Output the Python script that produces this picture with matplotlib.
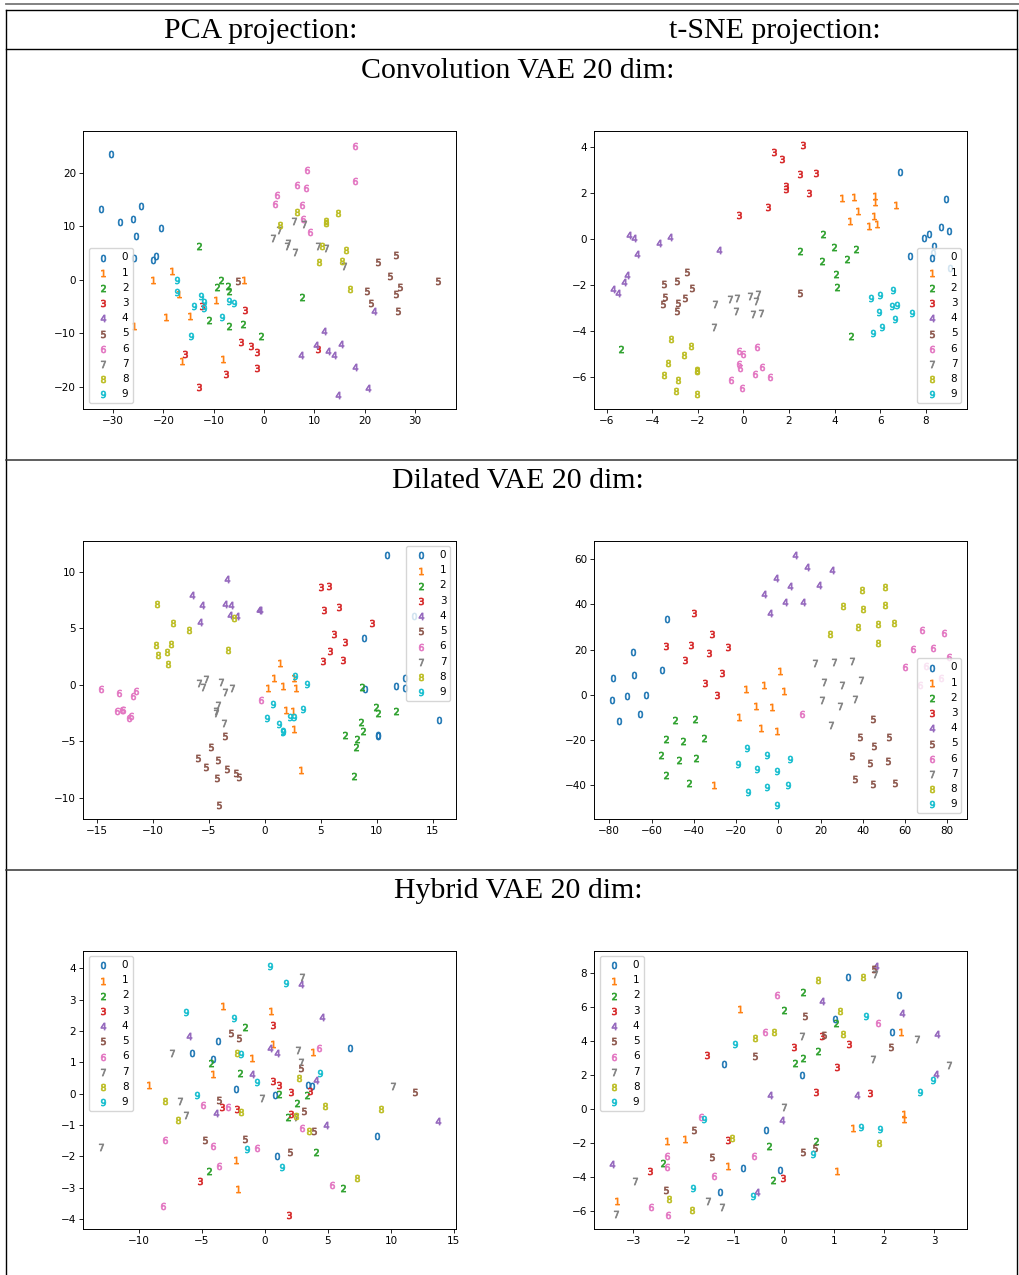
import matplotlib
matplotlib.use("Agg")
import matplotlib.pyplot as plt

DIGITS = [str(i) for i in range(10)]
COL_TITLES = ["PCA projection:", "t-SNE projection:"]
ROW_TITLES = ["Convolution VAE 20 dim:", "Dilated VAE 20 dim:", "Hybrid VAE 20 dim:"]

# ---- Convolution VAE, PCA ----
CONV_PCA_X = [
    [-30.4, -32.4, -28.6, -26.0, -24.4, -25.5, -20.5, -25.9, -22.0, -21.4],
    [-22.0, -18.2, -16.9, -19.4, -25.9, -14.7, -16.2, -9.6, -4.0, -8.1],
    [-13.0, -8.5, -9.4, -7.2, -7.0, -10.9, -7.0, -4.2, -0.5, 7.6],
    [-12.4, -3.8, -4.5, -2.6, -1.3, -1.4, -15.7, -7.5, -13.0, 10.7],
    [21.9, 11.9, 10.3, 12.7, 14.0, 15.3, 7.3, 18.1, 20.6, 14.7],
    [-5.1, 22.6, 26.3, 25.0, 20.4, 26.3, 27.1, 21.3, 26.7, 34.5],
    [18.0, 18.1, 8.6, 6.5, 8.4, 2.5, 2.2, 7.6, 7.7, 9.2],
    [5.9, 7.9, 2.9, 1.7, 4.8, 4.6, 6.2, 10.7, 12.4, 16.0],
    [3.1, 6.5, 12.3, 12.4, 14.7, 11.5, 16.4, 11.0, 15.5, 17.0],
    [-17.2, -17.3, -13.9, -12.5, -11.9, -11.9, -14.5, -8.4, -6.9, -6.0],
]
CONV_PCA_Y = [
    [23.5, 13.2, 10.7, 11.3, 13.8, 8.1, 9.7, 4.1, 3.7, 4.5],
    [0.0, 1.6, -2.7, -7.0, -8.6, -6.7, -15.2, -3.8, 0.0, -14.7],
    [6.4, 0.0, -1.4, -1.1, -2.0, -7.4, -8.6, -8.2, -10.4, -3.2],
    [-4.9, -5.7, -11.5, -12.4, -13.5, -16.4, -13.8, -17.5, -19.9, -12.8],
    [-5.8, -9.5, -12.1, -13.3, -14.0, -11.9, -14.1, -16.2, -20.1, -21.4],
    [-0.3, 3.3, 4.6, 0.8, -2.1, -2.6, -1.3, -4.3, -5.9, -0.3],
    [25.0, 18.4, 20.4, 17.6, 17.2, 15.8, 14.1, 14.0, 11.3, 8.9],
    [11.0, 10.4, 9.2, 7.8, 6.9, 6.4, 5.2, 6.4, 5.9, 2.5],
    [10.2, 12.7, 10.6, 10.9, 12.4, 6.4, 5.6, 3.3, 3.6, -1.7],
    [0.0, -2.2, -4.8, -3.1, -4.1, -5.3, -10.5, -6.9, -3.9, -4.4],
]

# ---- Convolution VAE, t-SNE ----
CONV_TSNE_X = [
    [6.89, 8.91, 8.68, 9.01, 8.15, 7.91, 8.37, 8.31, 7.33, 9.07],
    [4.33, 4.87, 5.78, 5.78, 6.70, 5.02, 5.73, 4.68, 5.51, 5.88],
    [3.51, 2.48, 3.96, 4.96, 3.44, 4.53, 4.06, 4.09, 4.73, -5.37],
    [1.36, 1.71, 2.62, 2.50, 3.19, 1.87, 1.89, 2.90, 1.09, -0.19],
    [-5.03, -4.81, -3.72, -3.24, -1.08, -4.67, -5.12, -5.24, -5.73, -5.50],
    [-2.47, -3.50, -2.90, -2.24, -3.42, -3.51, -2.58, -2.87, -2.93, 2.48],
    [-0.18, 0.00, 0.59, -0.18, -0.13, 0.81, 0.49, -0.56, 1.18, -0.04],
    [-1.26, -0.57, -0.29, 0.31, 0.63, 0.57, -0.34, 0.44, 0.76, -1.30],
    [-3.16, -2.31, -2.59, -3.29, -2.04, -2.04, -3.46, -2.85, -2.97, -2.04],
    [5.60, 6.00, 6.57, 6.51, 6.73, 5.94, 7.42, 6.64, 6.07, 5.68],
]
CONV_TSNE_Y = [
    [2.91, 1.76, 0.53, 0.35, 0.21, 0.03, -0.29, -0.60, -0.73, -1.26],
    [1.80, 1.82, 1.87, 1.60, 1.47, 1.23, 1.00, 0.77, 0.58, 0.65],
    [0.23, -0.51, -0.35, -0.45, -0.96, -0.87, -1.53, -2.10, -4.23, -4.79],
    [3.82, 3.50, 4.10, 2.83, 2.89, 2.33, 2.17, 1.99, 1.41, 1.07],
    [0.19, 0.06, -0.15, 0.08, -0.48, -0.64, -1.59, -1.87, -2.19, -2.35],
    [-1.45, -1.95, -1.83, -2.14, -2.54, -2.84, -2.58, -2.80, -3.12, -2.35],
    [-4.88, -5.01, -4.73, -5.46, -5.61, -5.59, -5.87, -6.16, -6.04, -6.48],
    [-2.84, -2.62, -2.58, -2.48, -2.38, -2.70, -3.13, -3.29, -3.21, -3.84],
    [-4.38, -4.68, -5.04, -5.40, -5.72, -5.77, -5.94, -6.16, -6.62, -6.76],
    [-2.58, -2.44, -2.22, -2.93, -2.89, -3.19, -3.22, -3.47, -3.85, -4.10],
]

# ---- Dilated VAE, PCA ----
DIL_PCA_X = [
    [10.95, 13.33, 8.83, 12.50, 11.75, 12.56, 8.92, 10.11, 10.11, 15.57],
    [1.40, 0.86, 2.59, 0.27, 1.61, 2.83, 1.88, 2.54, 2.65, 3.28],
    [8.68, 9.93, 10.11, 11.72, 8.59, 8.80, 7.22, 8.26, 8.14, 7.96],
    [5.04, 5.76, 5.34, 6.62, 9.63, 6.23, 7.16, 5.82, 5.22, 7.04],
    [-3.34, -6.50, -5.58, -3.58, -2.98, -3.10, -2.48, -0.54, -0.45, -5.76],
    [-3.52, -4.77, -5.96, -4.18, -5.25, -3.37, -2.56, -2.30, -4.26, -4.11],
    [-14.58, -13.03, -11.48, -11.75, -13.21, -12.71, -12.62, -12.11, -11.90, -0.36],
    [-5.82, -5.22, -5.52, -3.91, -3.52, -2.92, -4.18, -4.38, -4.32, -3.67],
    [-9.63, -8.20, -6.74, -9.72, -8.32, -9.48, -8.68, -8.62, -2.74, -3.25],
    [2.74, 3.82, 0.75, 3.46, 0.24, 2.30, 2.65, 1.31, 1.61, 1.64],
]
DIL_PCA_Y = [
    [11.47, 6.12, 4.12, 0.65, -0.06, -0.32, -0.35, -4.47, -4.53, -3.12],
    [1.97, 0.59, 0.59, -0.29, -0.06, -0.32, -2.24, -2.35, -3.88, -7.53],
    [-0.18, -2.00, -2.53, -2.29, -3.24, -4.09, -4.41, -4.76, -5.50, -8.06],
    [8.65, 8.71, 6.59, 6.85, 5.47, 4.47, 3.82, 2.97, 2.09, 2.21],
    [9.38, 7.97, 7.06, 7.12, 7.03, 6.18, 6.06, 6.59, 6.65, 5.59],
    [-4.50, -5.47, -6.47, -6.68, -7.26, -7.41, -7.82, -8.15, -8.26, -10.59],
    [-0.38, -0.71, -0.56, -1.00, -2.29, -2.18, -2.24, -2.94, -2.74, -1.38],
    [0.12, 0.56, -0.15, 0.29, -0.59, -0.24, -1.76, -2.35, -2.50, -3.38],
    [7.12, 5.50, 4.85, 3.50, 3.65, 2.68, 2.94, 1.88, 5.94, 3.12],
    [0.82, 0.09, -1.71, -2.15, -2.91, -2.88, -2.88, -3.47, -4.06, -4.21],
]

# ---- Dilated VAE, t-SNE ----
DIL_TSNE_X = [
    [-52.5, -68.8, -78.3, -68.5, -55.2, -78.7, -71.6, -62.8, -65.6, -75.4],
    [0.6, -15.5, -6.6, 2.8, -10.6, -3.2, -18.8, -8.4, -0.8, -30.3],
    [-48.8, -39.3, -53.2, -45.1, -35.0, -55.7, -47.2, -39.1, -53.2, -42.1],
    [-39.8, -31.4, -53.0, -41.3, -32.8, -23.7, -44.3, -26.5, -34.7, -28.9],
    [7.9, 13.4, 25.2, -1.3, 5.5, 19.4, -6.6, 3.0, 11.8, -3.9],
    [44.8, 38.5, 52.4, 45.3, 35.0, 43.6, 52.1, 36.4, 44.8, 55.1],
    [67.9, 78.4, 63.9, 73.1, 80.6, 60.0, 69.9, 77.0, 67.1, 11.2],
    [17.4, 26.5, 34.7, 21.6, 30.3, 39.0, 20.8, 29.0, 36.4, 24.8],
    [39.8, 50.3, 30.5, 39.9, 50.7, 37.9, 47.2, 54.6, 24.6, 47.0],
    [-14.7, -19.1, -5.5, 5.7, -10.3, -0.6, 4.4, -14.5, -5.5, -0.6],
]
DIL_TSNE_Y = [
    [33.4, 18.8, 7.3, 8.7, 10.8, -2.2, -0.7, -0.3, -8.4, -11.9],
    [10.7, 2.4, 4.4, 1.8, -5.1, -5.6, -9.8, -14.7, -16.0, -40.0],
    [-11.3, -10.6, -19.6, -20.4, -19.3, -26.8, -29.0, -28.3, -35.6, -39.3],
    [36.4, 26.7, 21.4, 22.2, 18.6, 21.0, 15.4, 9.8, 5.3, -0.3],
    [61.8, 56.5, 55.4, 51.7, 48.0, 48.5, 44.5, 41.1, 41.1, 36.1],
    [-10.7, -18.6, -18.6, -22.6, -27.2, -30.5, -29.5, -37.5, -39.5, -39.1],
    [28.7, 27.4, 20.4, 20.7, 16.6, 12.4, 12.9, 7.3, 4.2, -8.5],
    [13.9, 14.5, 15.0, 5.8, 4.3, 6.4, -2.6, -5.0, -1.9, -13.3],
    [46.5, 47.7, 39.3, 38.1, 39.7, 29.9, 31.4, 31.8, 26.9, 22.8],
    [-23.5, -30.9, -26.6, -28.5, -33.1, -33.8, -40.3, -43.2, -41.2, -48.9],
]

# ---- Hybrid VAE, PCA ----
HYB_PCA_X = [
    [-3.72, -5.76, -4.09, -2.27, 0.83, 3.43, 3.75, 6.76, 8.91, 0.94],
    [-3.35, 0.51, 0.67, -0.99, -4.09, -9.15, 3.80, -2.27, -2.09],
    [-1.57, -4.30, -2.00, 1.12, 3.35, 2.53, 1.87, 4.08, -4.44, 6.18],
    [0.62, 0.67, 1.15, 2.05, 3.56, -3.40, -2.24, 2.07, -5.12, 1.89],
    [2.86, 4.56, -6.02, 0.43, 0.99, -0.99, 4.06, -3.85, 4.88, 13.75],
    [-2.66, -2.05, 2.86, 11.91, -3.64, 3.07, -1.57, -4.76, 3.90, 1.99],
    [4.33, -4.91, -2.90, 2.97, -7.95, -4.15, -0.63, -3.62, 5.33, -8.10],
    [2.95, -7.40, 2.67, 2.88, -6.74, -0.23, -6.24, 2.49, 10.15, -12.97],
    [-2.21, 2.71, -7.88, -1.87, -6.92, 2.49, 4.80, 9.20, 3.51, 7.35],
    [0.38, 1.70, -6.24, -2.43, -1.87, 4.41, -0.63, -5.42, -1.45, 1.39],
]
HYB_PCA_Y = [
    [1.68, 1.31, 1.10, 0.16, -0.06, 0.26, 0.24, 1.45, -1.34, -1.99],
    [2.80, 2.65, 1.59, 1.12, 0.63, 0.28, 1.33, -2.11, -3.06],
    [2.13, 0.96, 0.65, -0.01, -0.04, -0.29, -0.75, -1.85, -2.48, -3.03],
    [2.18, 0.39, 0.26, 0.05, 0.07, -0.43, -0.48, -0.65, -2.78, -3.87],
    [3.49, 2.43, 1.85, 1.45, 1.28, 0.64, 0.44, -0.61, -1.00, -0.87],
    [1.92, 1.77, 0.83, 0.05, -0.22, -0.57, -1.46, -1.49, -1.18, -1.85],
    [1.44, -0.37, -0.42, -1.11, -1.47, -1.66, -1.75, -2.30, -2.92, -3.60],
    [3.71, 1.28, 1.40, 1.01, -0.24, -0.13, -0.68, -0.76, 0.25, -1.71],
    [1.31, 0.49, -0.25, -0.58, -0.83, -0.72, -0.40, -0.48, -1.18, -2.69],
    [4.06, 3.54, 2.61, 2.40, 1.25, 0.67, 0.36, -0.04, -1.77, -2.33],
]

# ---- Hybrid VAE, t-SNE ----
HYB_TSNE_X = [
    [1.28, 2.29, 1.02, 2.16, -1.20, 0.37, -0.35, -0.82, -0.07, -1.27],
    [-0.88, 2.34, 1.38, 2.39, 2.39, -2.32, -1.98, -1.12, 1.07, -3.33],
    [0.39, 0.01, 1.04, 0.68, 0.38, 0.22, 0.64, -0.29, -2.40, -0.21],
    [-1.53, 0.20, 0.77, 1.31, 1.07, 0.64, 1.73, -1.12, -2.67, -0.01],
    [1.85, 0.77, 2.36, 3.05, 3.03, -0.27, 1.46, -0.03, -3.42, -0.54],
    [1.80, 0.43, 0.81, 2.13, -0.57, -1.80, -1.44, 0.62, 0.39, -2.35],
    [-0.14, 1.88, -0.37, -1.65, -2.32, -0.59, -2.33, -1.40, -2.65, -2.30],
    [1.83, 0.37, 2.66, 1.78, 3.29, 0.01, -2.97, -1.52, -1.23, -3.34],
    [0.68, 1.58, 1.12, 1.19, -0.19, -0.57, -1.04, 1.90, -2.29, -1.83],
    [1.64, -0.97, 2.97, 2.71, -1.59, 1.55, 1.92, 0.59, -1.82, -0.61],
]
HYB_TSNE_Y = [
    [7.78, 6.71, 5.30, 4.56, 2.66, 2.01, -1.23, -3.46, -3.60, -4.89],
    [5.88, 4.56, -1.13, -0.31, -0.56, -1.86, -1.78, -3.36, -3.65, -5.41],
    [6.88, 5.83, 5.07, 3.42, 2.99, 2.72, -1.89, -2.18, -3.17, -4.16],
    [3.19, 3.68, 4.29, 3.81, 2.48, 1.02, 0.94, -1.83, -3.65, -4.04],
    [8.43, 6.36, 5.63, 4.44, 2.07, 0.86, 0.84, -0.61, -3.21, -4.87],
    [8.23, 5.46, 4.36, 3.68, 3.11, -1.21, -2.84, -2.31, -2.49, -4.77],
    [6.70, 5.04, 4.51, -0.47, -2.78, -2.78, -3.42, -3.91, -5.77, -6.20],
    [7.92, 4.32, 4.14, 2.93, 2.60, 0.12, -4.24, -5.38, -5.77, -6.16],
    [7.57, 7.74, 5.79, 4.42, 4.55, 4.20, -1.70, -2.01, -5.30, -5.91],
    [5.45, 3.81, 1.72, 0.98, -0.58, -1.04, -1.17, -2.64, -4.65, -5.12],
]

W, H = 1019, 1275
fig = plt.figure(figsize=(W / 100, H / 100), dpi=100)

# background "table" layer in pixel coordinates
bg = fig.add_axes([0, 0, 1, 1])
bg.set_xlim(0, W)
bg.set_ylim(H, 0)
bg.axis("off")
LX, RX = 6.5, 1017.5
bg.plot([LX, W], [3.5, 3.5], color="#777777", lw=1.3)
bg.plot([LX, RX], [10, 10], color="black", lw=1.0)
bg.plot([LX, LX], [10, H], color="black", lw=1.0)
bg.plot([RX, RX], [10, H], color="black", lw=1.0)
bg.plot([LX, RX], [49, 49], color="black", lw=1.0)
bg.plot([LX, RX], [459.5, 459.5], color="#333333", lw=1.1)
bg.plot([LX, RX], [869.5, 869.5], color="#333333", lw=1.1)

serif = ["Liberation Serif", "DejaVu Serif"]
bg.text(261, 38.5, COL_TITLES[0], ha="center", va="baseline", fontsize=21.5, family=serif)
bg.text(775, 38.5, COL_TITLES[1], ha="center", va="baseline", fontsize=21.5, family=serif)
for i, t in enumerate(ROW_TITLES):
    bg.text(518, 78 + 410 * i, t, ha="center", va="baseline", fontsize=21.5, family=serif)

PLOTS = [
    (CONV_PCA_X, CONV_PCA_Y, 0, 0, (-35.9, 38.1), (-24.0, 27.8), "lower left"),
    (CONV_TSNE_X, CONV_TSNE_Y, 0, 1, (-6.54, 9.80), (-7.40, 4.73), "lower right"),
    (DIL_PCA_X, DIL_PCA_Y, 1, 0, (-16.19, 17.06), (-11.82, 12.74), "upper right"),
    (DIL_TSNE_X, DIL_TSNE_Y, 1, 1, (-87.1, 89.2), (-55.0, 68.3), "lower right"),
    (HYB_PCA_X, HYB_PCA_Y, 2, 0, (-14.40, 15.14), (-4.31, 4.56), "upper left"),
    (HYB_TSNE_X, HYB_TSNE_Y, 2, 1, (-3.78, 3.65), (-7.02, 9.31), "upper left"),
]

COL_X0 = [83.3, 594.3]
ROW_Y0 = [130.7, 540.7, 950.7]
AX_W, AX_H = 372.4, 277.9

for xs, ys, r, c, xl, yl, loc in PLOTS:
    x0 = COL_X0[c]
    y0 = ROW_Y0[r]
    ax = fig.add_axes([x0 / W, 1 - (y0 + AX_H) / H, AX_W / W, AX_H / H])
    for d in range(10):
        ax.scatter(xs[d], ys[d], marker="$%s$" % DIGITS[d], s=26,
                   color="C%d" % d, linewidths=0.5, label=DIGITS[d])
    ax.set_xlim(*xl)
    ax.set_ylim(*yl)
    ax.tick_params(labelsize=7.5, length=2.6, width=0.6, pad=2.5)
    for sp in ax.spines.values():
        sp.set_linewidth(0.7)
    ax.legend(loc=loc, fontsize=7.5, scatterpoints=1)

fig.savefig("out.png", dpi=100)
